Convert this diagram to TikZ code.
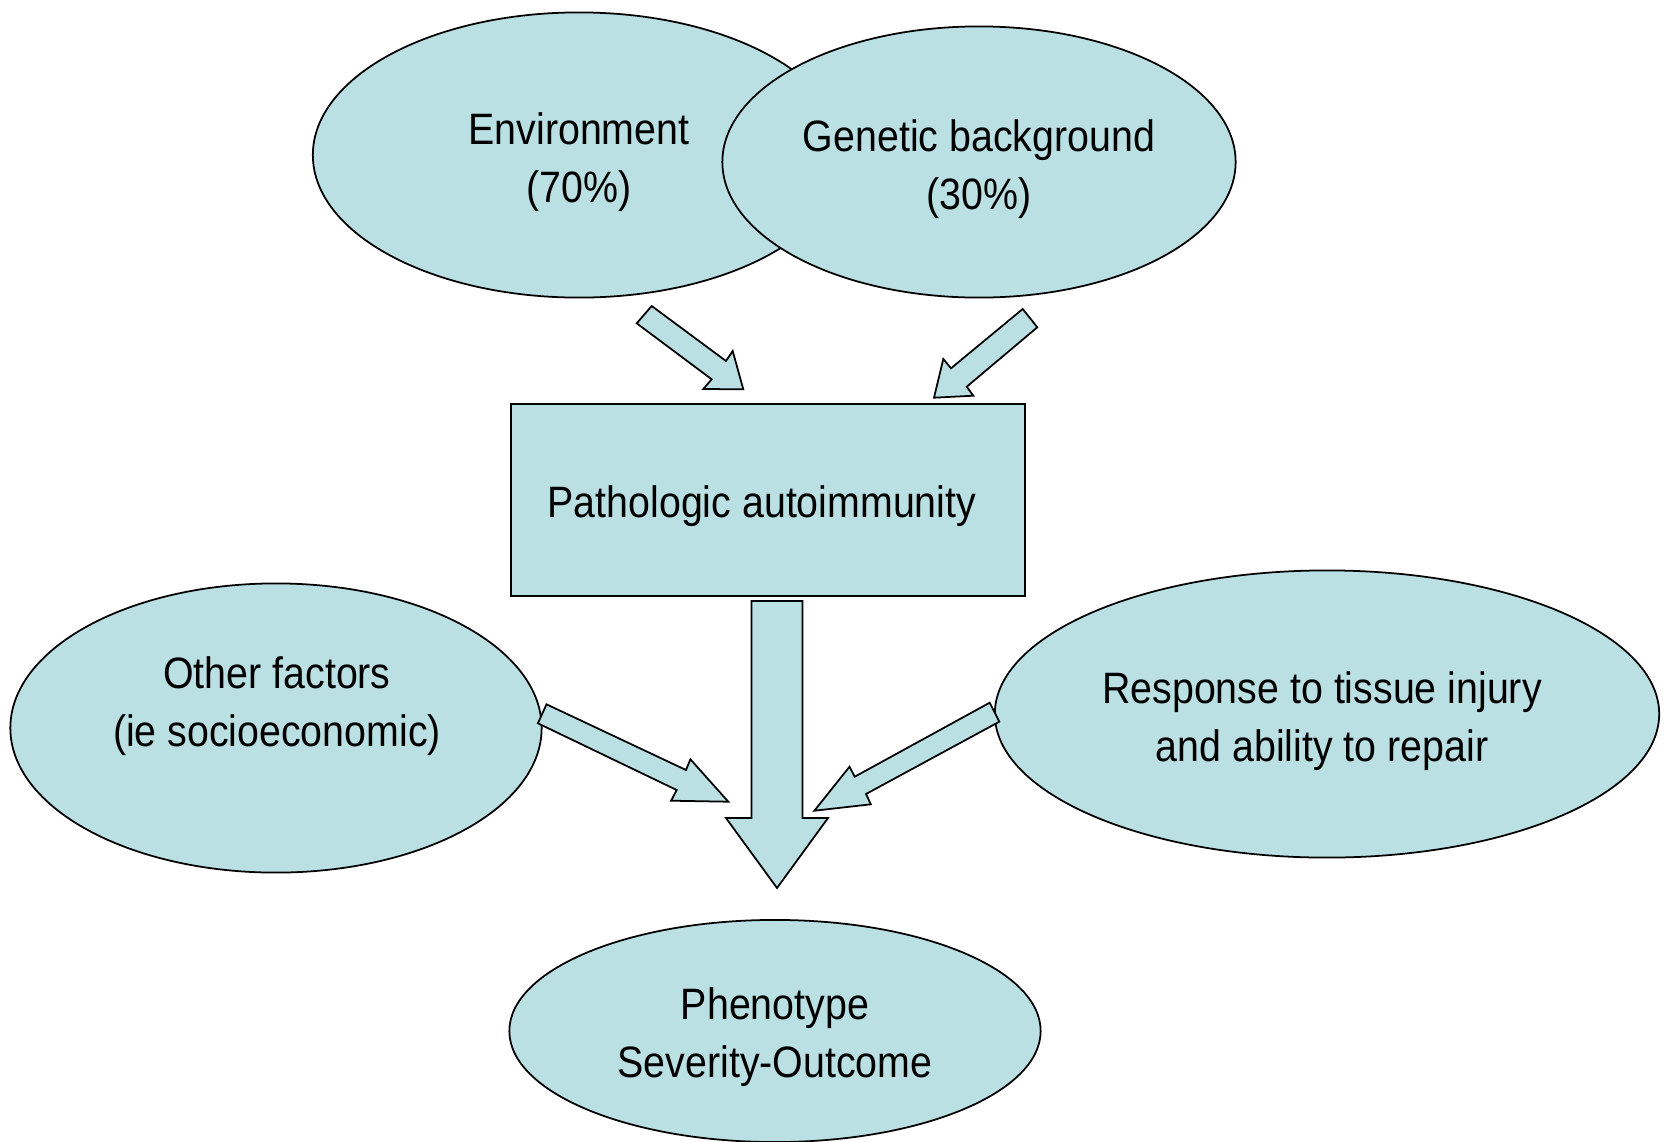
\documentclass[tikz,border=0pt]{standalone}
\usepackage{fontspec}
\setmainfont{Liberation Sans}[FakeStretch=0.895]
\usetikzlibrary{shapes.geometric}
\definecolor{fillblue}{RGB}{186,224,227}
\tikzset{
  ell/.style={ellipse, draw=black, line width=0.5pt, fill=fillblue, inner sep=0pt},
  txt/.style={align=center, font=\fontsize{12.5}{16.3}\selectfont, inner sep=0pt},
  boxnode/.style={rectangle, draw=black, line width=0.7pt, fill=fillblue, inner sep=0pt},
  blockarrow/.style={draw=black, line width=0.5pt, fill=fillblue, line join=miter}
}
\begin{document}
\begin{tikzpicture}[x=0.01cm, y=-0.01cm]
\useasboundingbox (0,0) rectangle (1666,1142);
% ellipses
\node[ell, minimum width=5.32cm, minimum height=2.85cm] (env) at (579,155) {};
\node[ell, minimum width=5.13cm, minimum height=2.71cm] (gen) at (979,162) {};
\node[ell, minimum width=5.31cm, minimum height=2.89cm] (other) at (276,728) {};
\node[ell, minimum width=6.64cm, minimum height=2.87cm] (resp) at (1327,714) {};
\node[ell, minimum width=5.31cm, minimum height=2.22cm] (pheno) at (775,1031) {};
% box
\node[boxnode, minimum width=5.14cm, minimum height=1.92cm] (patho) at (768,500) {};
% texts
\node[txt] (envt) at (579,162) {Environment\\(70\%)};
\node[txt] (gent) at (979,169) {Genetic background\\(30\%)};
\node[txt] (pathot) at (762,506) {Pathologic autoimmunity};
\node[txt] (othert) at (277,706) {Other factors\\(ie socioeconomic)};
\node[txt] (respt) at (1322,721) {Response to tissue injury\\and ability to repair};
\node[txt] (phenot) at (775,1037) {Phenotype\\Severity-Outcome};
% block arrows
\draw[blockarrow] (651.7,306) -- (726,361) -- (732.7,351) -- (743.3,389.3) -- (703.3,389) -- (711.7,379.3) -- (636.7,323.3) -- cycle;
\draw[blockarrow] (1022.7,309) -- (951,368.3) -- (943.3,359) -- (934,397.7) -- (973.3,395.7) -- (966.7,386.7) -- (1037.3,327.3) -- cycle;
\draw[blockarrow] (751.5,601) -- (802.5,601) -- (802.5,818) -- (828,818) -- (777,888) -- (726,818) -- (751.5,818) -- cycle;
\draw[blockarrow] (546.5,704.3) -- (686,770) -- (690.4,759.3) -- (728.3,801.7) -- (671.1,800.7) -- (676.7,790) -- (537.9,723.3) -- cycle;
\draw[blockarrow] (989.7,702.7) -- (854.7,776.7) -- (849.5,766.7) -- (814.4,810.7) -- (870.9,804.3) -- (866,794) -- (999.3,721.7) -- cycle;
\end{tikzpicture}
\end{document}
